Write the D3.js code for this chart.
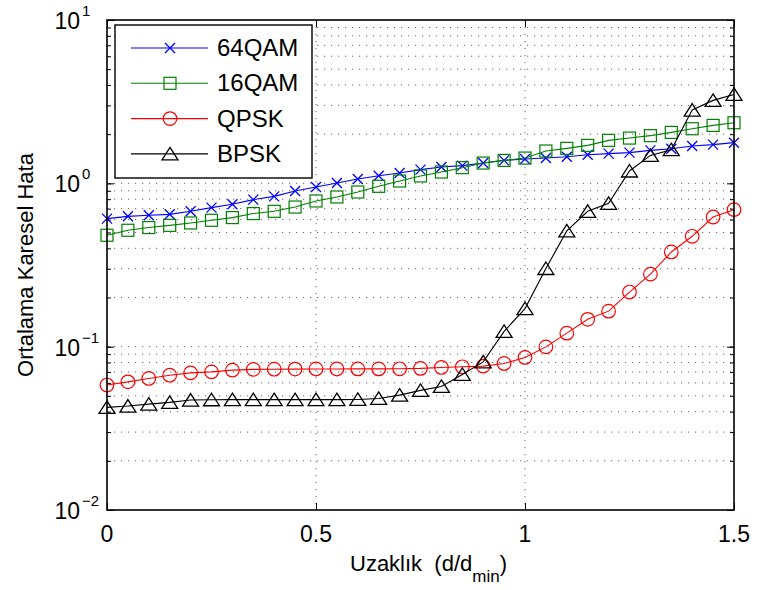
<!DOCTYPE html>
<html><head><meta charset="utf-8">
<script src="https://cdn.jsdelivr.net/npm/d3@7"></script>
<style>
html,body{margin:0;padding:0;background:#fff;}
text{font-family:"Liberation Sans",Arial,Helvetica,sans-serif;fill:#000;}
</style></head>
<body><svg id="chart" width="758" height="590"></svg>
<script>
const distances = [0,0.05,0.1,0.15,0.2,0.25,0.3,0.35,0.4,0.45,0.5,0.55,0.6,0.65,0.7,0.75,0.8,0.85,0.9,0.95,1.0,1.05,1.1,1.15,1.2,1.25,1.3,1.35,1.4,1.45,1.5];
const qam64 = [0.608,0.628,0.637,0.646,0.674,0.710,0.744,0.795,0.832,0.897,0.949,1.004,1.062,1.114,1.156,1.213,1.259,1.283,1.331,1.382,1.409,1.428,1.456,1.497,1.520,1.541,1.592,1.630,1.691,1.725,1.774];
const qam16 = [0.481,0.516,0.536,0.553,0.572,0.594,0.617,0.653,0.674,0.716,0.780,0.825,0.885,0.959,1.033,1.110,1.173,1.247,1.331,1.382,1.428,1.577,1.637,1.708,1.833,1.893,1.958,2.050,2.159,2.263,2.350];
const qpsk = [0.0582,0.0609,0.0639,0.0669,0.0691,0.0701,0.0718,0.0726,0.0728,0.0729,0.0730,0.0730,0.0731,0.0731,0.0732,0.0736,0.0746,0.0753,0.0760,0.0789,0.0859,0.0997,0.121,0.147,0.165,0.216,0.278,0.380,0.474,0.622,0.690];
const bpsk = [0.0425,0.0433,0.0445,0.0456,0.0471,0.0473,0.0474,0.0474,0.0474,0.0474,0.0474,0.0474,0.0475,0.0482,0.0505,0.0540,0.0571,0.0676,0.0807,0.124,0.171,0.301,0.511,0.674,0.754,1.190,1.483,1.607,2.81,3.22,3.50];
const seriesNames = ["64QAM","16QAM","QPSK","BPSK"];
const seriesColors = ["#0000ff","#008000","#ff0000","#000000"];
const seriesMarkers = ["x","square","circle","triangle"];
const xTickValues = [0,0.5,1,1.5];
const xTickLabels = ["0","0.5","1","1.5"];
const yTickValues = [0.01,0.1,1,10];
const yTickExponents = ["\u22122","\u22121","0","1"];
const xLabel = "Uzakl\u0131k  (d/d";
const xLabelSub = "min";
const yLabel = "Ortalama Karesel Hata";

const seriesValues = [qam64,qam16,qpsk,bpsk];
const series = seriesNames.map((n,i)=>({name:n,color:seriesColors[i],marker:seriesMarkers[i],
  pts:distances.map((d,j)=>({x:d,y:seriesValues[i][j]}))}));

const L=107,R=734,T=20,B=510;
const svg = d3.select("#chart");
const x = d3.scaleLinear().domain([0,1.5]).range([L,R]);
const y = d3.scaleLog().domain([0.01,10]).range([B,T]);

// grid
const minorVals = [];
[0.01,0.1,1].forEach(dec=>{for(let k=1;k<=9;k++){if(dec*k>0.01)minorVals.push(dec*k);}});
minorVals.push(10);
const grid = svg.append("g");
grid.selectAll("line.h").data(minorVals.filter(v=>v<10)).enter().append("line")
  .attr("x1",L).attr("x2",R).attr("y1",d=>y(d)).attr("y2",d=>y(d))
  .attr("stroke","#666").attr("stroke-width",1).attr("stroke-dasharray","1.2,5.8");
grid.selectAll("line.v").data([0.5,1]).enter().append("line")
  .attr("y1",T).attr("y2",B).attr("x1",d=>x(d)).attr("x2",d=>x(d))
  .attr("stroke","#666").attr("stroke-width",1).attr("stroke-dasharray","1.2,5.8");

// axes ticks (inside)
const axG = svg.append("g");
axG.append("g").attr("transform",`translate(0,${B})`).call(d3.axisBottom(x).tickValues(xTickValues).tickSize(-7).tickFormat(""));
axG.append("g").attr("transform",`translate(0,${T})`).call(d3.axisTop(x).tickValues(xTickValues).tickSize(-7).tickFormat(""));
axG.append("g").attr("transform",`translate(${L},0)`).call(d3.axisLeft(y).tickValues(minorVals).tickSize(-4).tickFormat(""));
axG.append("g").attr("transform",`translate(${R},0)`).call(d3.axisRight(y).tickValues(minorVals).tickSize(-4).tickFormat(""));
axG.append("g").attr("transform",`translate(${L},0)`).call(d3.axisLeft(y).tickValues(yTickValues).tickSize(-7).tickFormat(""));
axG.append("g").attr("transform",`translate(${R},0)`).call(d3.axisRight(y).tickValues(yTickValues).tickSize(-7).tickFormat(""));
axG.selectAll(".domain").remove();
axG.selectAll(".tick line").attr("stroke","#000").attr("stroke-width",1);

// tick labels
svg.selectAll("text.xt").data(xTickValues).enter().append("text")
  .attr("x",d=>x(d)).attr("y",B+32).attr("text-anchor","middle")
  .attr("font-size",23).text((d,i)=>xTickLabels[i]);
svg.selectAll("text.yt").data(yTickValues).enter().append("text")
  .attr("x",L-27).attr("y",d=>y(d)+9).attr("text-anchor","end").attr("font-size",23).text("10");
svg.selectAll("text.ye").data(yTickValues).enter().append("text")
  .attr("x",L-25).attr("y",d=>y(d)-4).attr("text-anchor","start").attr("font-size",15)
  .text((d,i)=>yTickExponents[i]);

// axis labels
const xl = svg.append("text").attr("x",(L+R)/2+8).attr("y",571).attr("text-anchor","middle")
  .attr("font-size",22).style("white-space","pre");
xl.append("tspan").text(xLabel);
xl.append("tspan").attr("font-size",17).attr("dy",11).text(xLabelSub);
xl.append("tspan").attr("dy",-11).text(")");
svg.append("text").attr("transform",`translate(33,${(T+B)/2}) rotate(-90)`)
  .attr("text-anchor","middle").attr("font-size",22).text(yLabel);

// lines and markers
const line = d3.line().x(d=>x(d.x)).y(d=>y(d.y));
function drawMarker(g,type,color){
  if(type==="x") g.append("path").attr("d","M-5,-5L5,5M-5,5L5,-5").attr("stroke",color).attr("stroke-width",1.3).attr("fill","none");
  else if(type==="square") g.append("rect").attr("x",-6).attr("y",-6).attr("width",12).attr("height",12).attr("stroke",color).attr("stroke-width",1.2).attr("fill","none");
  else if(type==="circle") g.append("circle").attr("r",6.8).attr("stroke",color).attr("stroke-width",1.2).attr("fill","none");
  else if(type==="triangle") g.append("path").attr("d","M0,-6.5L8,6L-8,6Z").attr("stroke",color).attr("stroke-width",1.3).attr("fill","none");
}
const plotG = svg.append("g");
series.forEach(s=>{
  plotG.append("path").datum(s.pts).attr("d",line).attr("fill","none").attr("stroke",s.color).attr("stroke-width",1.1);
  plotG.selectAll(null).data(s.pts).enter().append("g")
    .attr("transform",d=>`translate(${x(d.x)},${y(d.y)})`)
    .each(function(){drawMarker(d3.select(this),s.marker,s.color);});
});

// frame
svg.append("rect").attr("x",L).attr("y",T).attr("width",R-L).attr("height",B-T)
  .attr("fill","none").attr("stroke","#000").attr("stroke-width",1.6);

// legend
const lg = svg.append("g");
lg.append("rect").attr("x",115).attr("y",25).attr("width",197).attr("height",153)
  .attr("fill","#fff").attr("stroke","#000").attr("stroke-width",1.4);
series.forEach((s,i)=>{
  const yy = 48 + i*35.3;
  lg.append("line").attr("x1",131).attr("x2",208).attr("y1",yy).attr("y2",yy).attr("stroke",s.color).attr("stroke-width",1.1);
  drawMarker(lg.append("g").attr("transform",`translate(170,${yy})`),s.marker,s.color);
  lg.append("text").attr("x",217).attr("y",yy+8).attr("font-size",24).text(s.name);
});
</script></body></html>
